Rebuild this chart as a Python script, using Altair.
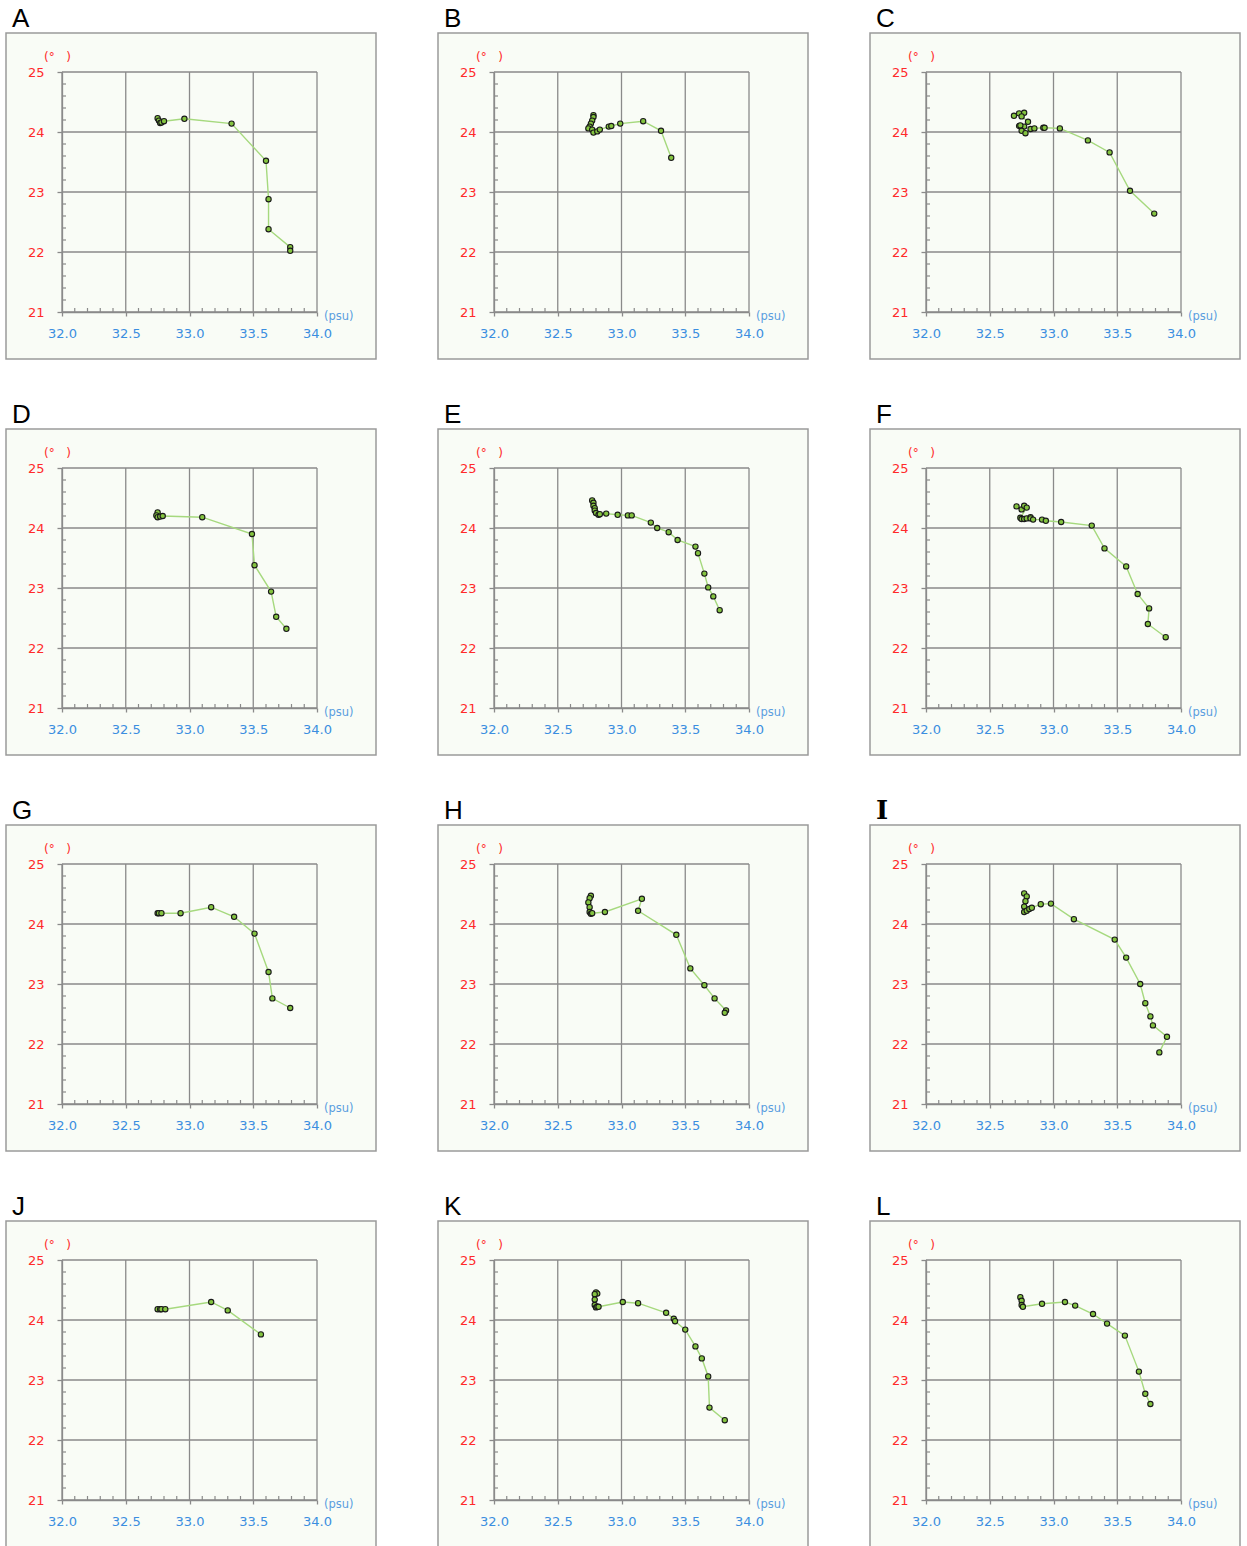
import altair as alt
import pandas as pd

# ---------------- data (salinity psu, temperature °) ----------------
letters = list("ABCDEFGHIJKL")

A_sal = [32.75, 32.76, 32.77, 32.78, 32.80, 32.96, 33.33, 33.60, 33.62, 33.62, 33.79, 33.79]
A_temp = [24.23, 24.19, 24.15, 24.16, 24.18, 24.22, 24.14, 23.52, 22.88, 22.38, 22.08, 22.02]

B_sal = [32.78, 32.78, 32.77, 32.76, 32.75, 32.74, 32.77, 32.78, 32.81, 32.83, 32.90, 32.92, 32.99, 33.17, 33.31, 33.39]
B_temp = [24.28, 24.25, 24.19, 24.14, 24.09, 24.06, 24.04, 23.99, 24.01, 24.04, 24.09, 24.10, 24.14, 24.18, 24.02, 23.57]

C_sal = [32.69, 32.73, 32.77, 32.75, 32.80, 32.77, 32.73, 32.74, 32.75, 32.78, 32.82, 32.85, 32.92, 32.93, 33.05, 33.27, 33.44, 33.60, 33.79]
C_temp = [24.27, 24.31, 24.32, 24.26, 24.17, 24.09, 24.10, 24.11, 24.02, 23.98, 24.05, 24.06, 24.07, 24.07, 24.06, 23.86, 23.66, 23.02, 22.64]

D_sal = [32.75, 32.74, 32.75, 32.77, 32.79, 33.10, 33.49, 33.51, 33.64, 33.68, 33.76]
D_temp = [24.26, 24.21, 24.18, 24.19, 24.20, 24.18, 23.90, 23.38, 22.94, 22.52, 22.32]

E_sal = [32.77, 32.78, 32.78, 32.79, 32.79, 32.80, 32.82, 32.83, 32.88, 32.97, 33.05, 33.08, 33.23, 33.28, 33.37, 33.44, 33.58, 33.60, 33.65, 33.68, 33.72, 33.77]
E_temp = [24.46, 24.42, 24.37, 24.33, 24.29, 24.25, 24.22, 24.23, 24.24, 24.22, 24.21, 24.21, 24.09, 24.00, 23.93, 23.80, 23.69, 23.58, 23.24, 23.01, 22.86, 22.63]

F_sal = [32.71, 32.75, 32.77, 32.79, 32.74, 32.75, 32.77, 32.79, 32.82, 32.82, 32.84, 32.91, 32.94, 33.06, 33.30, 33.40, 33.57, 33.66, 33.75, 33.74, 33.88]
F_temp = [24.36, 24.31, 24.37, 24.34, 24.17, 24.15, 24.15, 24.16, 24.18, 24.16, 24.14, 24.14, 24.12, 24.10, 24.04, 23.66, 23.36, 22.90, 22.66, 22.40, 22.18]

G_sal = [32.75, 32.76, 32.78, 32.93, 33.17, 33.35, 33.51, 33.62, 33.65, 33.79]
G_temp = [24.18, 24.18, 24.18, 24.18, 24.28, 24.12, 23.84, 23.20, 22.76, 22.60]

H_sal = [32.76, 32.75, 32.74, 32.75, 32.75, 32.76, 32.77, 32.87, 33.16, 33.13, 33.43, 33.54, 33.65, 33.73, 33.82, 33.81]
H_temp = [24.47, 24.43, 24.36, 24.28, 24.20, 24.17, 24.18, 24.20, 24.42, 24.22, 23.82, 23.26, 22.98, 22.76, 22.56, 22.52]

I_sal = [32.77, 32.79, 32.78, 32.77, 32.77, 32.79, 32.81, 32.83, 32.90, 32.98, 33.16, 33.48, 33.57, 33.68, 33.72, 33.76, 33.78, 33.89, 33.83]
I_temp = [24.51, 24.46, 24.38, 24.29, 24.20, 24.22, 24.25, 24.27, 24.33, 24.34, 24.08, 23.74, 23.44, 23.00, 22.68, 22.46, 22.31, 22.12, 21.86]

J_sal = [32.75, 32.77, 32.78, 32.81, 33.17, 33.30, 33.56]
J_temp = [24.18, 24.18, 24.18, 24.18, 24.30, 24.16, 23.76]

K_sal = [32.80, 32.81, 32.79, 32.79, 32.79, 32.80, 32.81, 32.82, 33.01, 33.13, 33.35, 33.41, 33.42, 33.50, 33.58, 33.63, 33.68, 33.69, 33.81]
K_temp = [24.46, 24.44, 24.43, 24.34, 24.25, 24.21, 24.22, 24.22, 24.30, 24.28, 24.12, 24.02, 23.98, 23.84, 23.56, 23.36, 23.06, 22.54, 22.33]

L_sal = [32.74, 32.75, 32.75, 32.76, 32.91, 33.09, 33.17, 33.31, 33.42, 33.56, 33.67, 33.72, 33.76]
L_temp = [24.38, 24.32, 24.25, 24.22, 24.27, 24.30, 24.24, 24.10, 23.94, 23.74, 23.14, 22.77, 22.60]

x_major = [32.0, 32.5, 33.0, 33.5, 34.0]
y_major = [21, 22, 23, 24, 25]
x_minor = [32.1, 32.2, 32.3, 32.4, 32.6, 32.7, 32.8, 32.9, 33.1, 33.2, 33.3, 33.4,
           33.6, 33.7, 33.8, 33.9]
y_minor = [21.2, 21.4, 21.6, 21.8, 22.2, 22.4, 22.6, 22.8, 23.2, 23.4, 23.6, 23.8,
           24.2, 24.4, 24.6, 24.8]
x_unit = "(psu)"
y_unit = "(°\u00a0\u00a0\u00a0)"

series = {
    "A": (A_sal, A_temp), "B": (B_sal, B_temp), "C": (C_sal, C_temp),
    "D": (D_sal, D_temp), "E": (E_sal, E_temp), "F": (F_sal, F_temp),
    "G": (G_sal, G_temp), "H": (H_sal, H_temp), "I": (I_sal, I_temp),
    "J": (J_sal, J_temp), "K": (K_sal, K_temp), "L": (L_sal, L_temp),
}

# ---------------- style ----------------
W, H = 255, 240
GRID = "#8a8a8a"
RED = "#ff2a2a"
BLUE = "#3b8ee0"
FONT = "DejaVu Sans"

XS = alt.Scale(domain=[32, 34], nice=False, zero=False)
YS = alt.Scale(domain=[21, 25], nice=False, zero=False)

X_AXIS = alt.Axis(values=x_major, format=".1f", title=None, grid=False,
                  domainColor=GRID, domainWidth=1.3, tickColor=GRID, tickWidth=1.3,
                  tickSize=4, labelColor=BLUE, labelFont=FONT, labelFontSize=13,
                  labelPadding=11, labelFlush=False, zindex=1)
Y_AXIS = alt.Axis(values=y_major, format="d", title=None, grid=False,
                  domainColor=GRID, domainWidth=1.3, tickColor=GRID, tickWidth=1.3,
                  tickSize=5, labelColor=RED, labelFont=FONT, labelFontSize=13,
                  labelPadding=13, labelFlush=False, zindex=1)


def panel(letter):
    sal, temp = series[letter]
    df = pd.DataFrame({"sal": sal, "temp": temp, "i": list(range(len(sal)))})
    one = pd.DataFrame({"k": [0]})

    box = alt.Chart(one).mark_rect(fill="#f9fcf6", stroke="#9a9a9a", strokeWidth=1.5).encode(
        x=alt.value(-56), x2=alt.value(314), y=alt.value(-39), y2=alt.value(287))

    vgrid = alt.Chart(pd.DataFrame({"sal": x_major})).mark_rule(
        color=GRID, strokeWidth=1.3).encode(x=alt.X("sal:Q", scale=XS, axis=X_AXIS))
    hgrid = alt.Chart(pd.DataFrame({"temp": y_major})).mark_rule(
        color=GRID, strokeWidth=1.3).encode(y=alt.Y("temp:Q", scale=YS, axis=Y_AXIS))

    xminor = alt.Chart(pd.DataFrame({"sal": x_minor})).mark_rule(
        color=GRID, strokeWidth=1.2).encode(
        x=alt.X("sal:Q", scale=XS, axis=X_AXIS), y=alt.value(H), y2=alt.value(H - 4))
    yminor = alt.Chart(pd.DataFrame({"temp": y_minor})).mark_rule(
        color=GRID, strokeWidth=1.2).encode(
        y=alt.Y("temp:Q", scale=YS, axis=Y_AXIS), x=alt.value(0), x2=alt.value(4))

    line = alt.Chart(df).mark_line(color="#a6d97e", strokeWidth=1.4).encode(
        x=alt.X("sal:Q", scale=XS, axis=X_AXIS),
        y=alt.Y("temp:Q", scale=YS, axis=Y_AXIS),
        order="i:Q")
    pts = alt.Chart(df).mark_circle(size=28, color="#84c440", opacity=1,
                                    stroke="#1a1a1a", strokeWidth=1.1).encode(
        x=alt.X("sal:Q", scale=XS, axis=X_AXIS),
        y=alt.Y("temp:Q", scale=YS, axis=Y_AXIS))

    lfont = "DejaVu Serif" if letter == "I" else "Liberation Sans"
    lweight = "bold" if letter == "I" else "normal"
    lab = alt.Chart(one).mark_text(text=letter, font=lfont, fontWeight=lweight, fontSize=26,
                                   color="#000000", align="left", baseline="top").encode(
        x=alt.value(-50), y=alt.value(-66))
    yu = alt.Chart(one).mark_text(text=y_unit, font=FONT, fontSize=12, color=RED,
                                  align="left", baseline="middle").encode(
        x=alt.value(-18), y=alt.value(-15))
    xu = alt.Chart(one).mark_text(text=x_unit, font=FONT, fontSize=11.5, color="#5a9ee0",
                                  align="left", baseline="middle").encode(
        x=alt.value(262), y=alt.value(5 + H))

    return alt.layer(box, vgrid, hgrid, xminor, yminor, line, pts, lab, yu, xu).properties(
        width=W, height=H)


chart = alt.concat(*[panel(l) for l in letters], columns=3,
                   spacing={"row": 156, "column": 177}, bounds="flush").properties(
    padding={"left": 5, "top": 6, "right": 5, "bottom": 0},
    background="#ffffff",
).configure_view(stroke=None, fill=None)

chart.save("out.html", embed_options={"renderer": "svg", "actions": False})
